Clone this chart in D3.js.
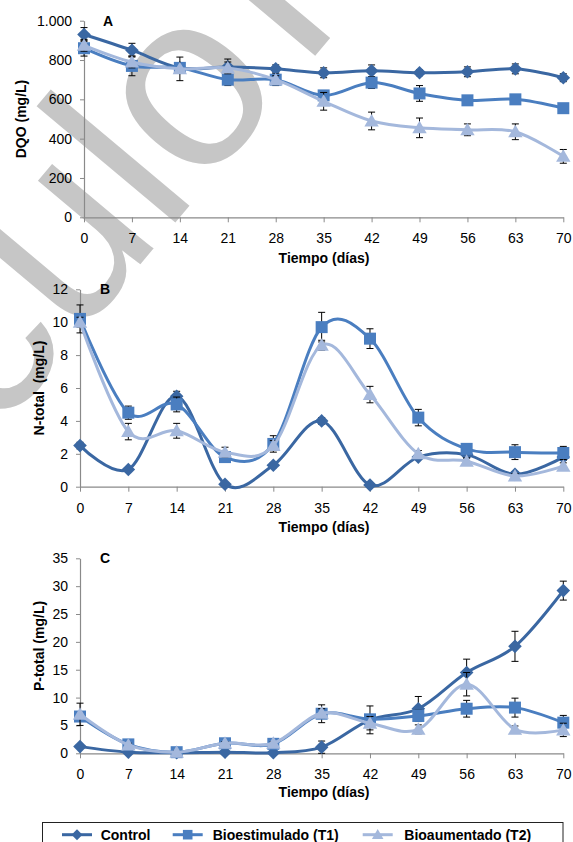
<!DOCTYPE html>
<html><head><meta charset="utf-8">
<script src="https://cdn.jsdelivr.net/npm/d3@7"></script>
<style>
body{margin:0;background:#fff}
svg{display:block}
text{font-family:"Liberation Sans",Arial,Helvetica,sans-serif}
</style>
</head><body>
<svg id="chart" width="573" height="842"></svg>
<script>
// ---------------- DATA ----------------
const days = [0, 7, 14, 21, 28, 35, 42, 49, 56, 63, 70];
const seriesNames = ["Control", "Bioestimulado (T1)", "Bioaumentado (T2)"];
const panelLetters = ["A", "B", "C"];
const yTitles = ["DQO (mg/L)", "N-total  (mg/L)", "P-total (mg/L)"];
const xTitle = "Tiempo (días)";
const watermarkWord1 = "Artículo";
const watermarkWord2 = " F";

// A: DQO (mg/L)
const dqoControl = [930, 850, 760, 765, 755, 735, 745, 735, 740, 755, 710];
const dqoT1      = [860, 770, 760, 700, 700, 620, 685, 630, 595, 600, 555];
const dqoT2      = [875, 790, 755, 760, 700, 590, 490, 455, 445, 435, 310];
const dqoErrControl = [35, 35, 20, 40, 20, 25, 30, 15, 25, 25, 20];
const dqoErrT1      = [40, 50, 20, 30, 30, 25, 30, 40, 20, 20, 15];
const dqoErrT2      = [30, 30, 60, 30, 20, 45, 45, 50, 30, 40, 35];
const dqoTicks = [0, 200, 400, 600, 800, 1000];

// B: N-total (mg/L)
const nControl = [2.5, 1.05, 5.5, 0.15, 1.3, 4.0, 0.1, 1.8, 1.95, 0.75, 1.8];
const nT1      = [10.2, 4.5, 5.0, 1.8, 2.6, 9.7, 9.0, 4.2, 2.3, 2.1, 2.05];
const nT2      = [10.0, 3.35, 3.4, 2.1, 2.5, 8.6, 5.6, 2.0, 1.55, 0.65, 1.25];
const nErrControl = [0.2, 0.1, 0.3, 0.1, 0.15, 0.2, 0.1, 0.15, 0.2, 0.15, 0.2];
const nErrT1      = [0.85, 0.4, 0.45, 0.3, 0.5, 0.9, 0.6, 0.5, 0.2, 0.45, 0.4];
const nErrT2      = [0.3, 0.5, 0.45, 0.3, 0.3, 0.3, 0.5, 0.2, 0.2, 0.15, 0.2];
const nTicks = [0, 2, 4, 6, 8, 10, 12];

// C: P-total (mg/L)
const pControl = [1.2, 0.2, 0.1, 0.2, 0.1, 1.1, 6.0, 8.0, 14.5, 19.2, 29.2];
const pT1      = [6.6, 1.6, 0.2, 1.8, 1.7, 7.1, 6.1, 6.7, 8.0, 8.2, 5.5];
const pT2      = [7.0, 1.5, 0.2, 1.8, 1.8, 7.2, 5.4, 4.3, 12.4, 4.3, 4.2];
const pErrControl = [0.3, 0.2, 0.1, 0.2, 0.2, 1.1, 2.5, 2.2, 2.4, 2.7, 1.7];
const pErrT1      = [0.5, 0.3, 0.2, 0.3, 0.3, 1.6, 0.5, 1.0, 1.5, 1.7, 1.3];
const pErrT2      = [2.0, 0.3, 0.2, 0.3, 0.3, 0.8, 1.2, 0.8, 2.1, 0.6, 1.2];
const pTicks = [0, 5, 10, 15, 20, 25, 30, 35];

// ---------------- STYLE / LAYOUT ----------------
const colors = ["#3A67A2", "#4A7EC0", "#A4B8DC"];
const shapes = ["diamond", "square", "triangle"];
const axisColor = "#8a8a8a";
const esLocale = d3.formatLocale({decimal: ",", thousands: ".", grouping: [3], currency: ["", "€"]});
const fmtThousands = esLocale.format(",");

const panels = [
  {vals: [dqoControl, dqoT1, dqoT2], errs: [dqoErrControl, dqoErrT1, dqoErrT2], ticks: dqoTicks,
   x0: 84, x1: 563.3, yTop: 20.7, yBot: 217.3, letterX: 103, letterY: 26,
   titleX: 21, titleY: 119, xTitleY: 263, fmt: fmtThousands},
  {vals: [nControl, nT1, nT2], errs: [nErrControl, nErrT1, nErrT2], ticks: nTicks,
   x0: 80, x1: 563.3, yTop: 289.3, yBot: 486.7, letterX: 100, letterY: 294,
   titleX: 38.5, titleY: 388, xTitleY: 532, fmt: d3.format("d")},
  {vals: [pControl, pT1, pT2], errs: [pErrControl, pErrT1, pErrT2], ticks: pTicks,
   x0: 80, x1: 563.3, yTop: 558.3, yBot: 753.3, letterX: 100, letterY: 563,
   titleX: 38.5, titleY: 646, xTitleY: 797, fmt: d3.format("d")}
];

const svg = d3.select("#chart");

// ---------------- WATERMARK ----------------
(function () {
  const S = 250, theta = -50;
  const g = svg.append("g");
  const t = g.append("text").attr("font-size", S).attr("fill", "#c6c6c6").attr("x", 0).attr("y", 0);
  t.append("tspan").text(watermarkWord1);
  t.append("tspan").attr("dx", -0.2 * S).text(watermarkWord2);
  let cx = 778;
  try {
    const ext = t.node().getExtentOfChar(7);
    cx = ext.x + ext.width / 2;
  } catch (e) {}
  const px = cx, py = -0.26 * S;
  const r = theta * Math.PI / 180;
  const rx = px * Math.cos(r) - py * Math.sin(r);
  const ry = px * Math.sin(r) + py * Math.cos(r);
  const target = [195, 98];
  g.attr("transform", `translate(${target[0] - rx},${target[1] - ry}) rotate(${theta})`);
})();

function markerPath(shape, k) {
  k = k || 1;
  if (shape === "diamond") { const h = 6.8 * k; return `M0,${-h}L${h},0L0,${h}L${-h},0Z`; }
  if (shape === "square") { const h = 6 * k; return `M${-h},${-h}H${h}V${h}H${-h}Z`; }
  const w = 7.2 * k, hT = 7 * k, hB = 5.5 * k;
  return `M0,${-hT}L${w},${hB}L${-w},${hB}Z`;
}

// ---------------- PANELS ----------------
panels.forEach((p, pi) => {
  const x = d3.scaleLinear().domain([0, 70]).range([p.x0, p.x1]);
  const y = d3.scaleLinear().domain([0, d3.max(p.ticks)]).range([p.yBot, p.yTop]);
  const g = svg.append("g");

  const ya = g.append("g").attr("transform", `translate(${p.x0},0)`)
    .call(d3.axisLeft(y).tickValues(p.ticks).tickFormat(p.fmt).tickSize(4).tickSizeOuter(0).tickPadding(8));
  const xa = g.append("g").attr("transform", `translate(0,${p.yBot})`)
    .call(d3.axisBottom(x).tickValues(days).tickFormat(d3.format("d")).tickSize(5).tickSizeOuter(0).tickPadding(11));
  [ya, xa].forEach(a => {
    a.select(".domain").attr("stroke", axisColor).attr("stroke-width", 1.2);
    a.selectAll(".tick line").attr("stroke", axisColor).attr("stroke-width", 1);
    a.selectAll(".tick text").attr("fill", "#000").attr("font-size", 14)
      .attr("font-family", "'Liberation Sans', Arial, sans-serif");
  });

  g.append("text").attr("x", p.letterX).attr("y", p.letterY).text(panelLetters[pi])
    .attr("font-weight", "bold").attr("font-size", 14).attr("fill", "#000");
  g.append("text").attr("transform", `translate(${p.titleX},${p.titleY}) rotate(-90)`)
    .attr("text-anchor", "middle").attr("dominant-baseline", "central")
    .attr("font-weight", "bold").attr("font-size", 14).attr("fill", "#000")
    .attr("xml:space", "preserve").style("white-space", "pre")
    .text(yTitles[pi]);
  g.append("text").attr("x", 324).attr("y", p.xTitleY).attr("text-anchor", "middle")
    .attr("font-weight", "bold").attr("font-size", 14).attr("fill", "#000").text(xTitle);

  const line = d3.line().x(d => x(d[0])).y(d => y(d[1])).curve(d3.curveCatmullRom.alpha(0));

  p.vals.forEach((vals, si) => {
    const pts = days.map((d, i) => [d, vals[i]]);
    const errs = p.errs[si];
    const sg = g.append("g");
    const eb = sg.append("g").attr("stroke", "#000").attr("stroke-width", 1).attr("fill", "none");
    pts.forEach((pt, i) => {
      const e = errs[i];
      const xx = x(pt[0]), yLo = y(Math.max(0, pt[1] - e)), yHi = y(pt[1] + e);
      eb.append("line").attr("x1", xx).attr("x2", xx).attr("y1", yLo).attr("y2", yHi);
      eb.append("line").attr("x1", xx - 3.5).attr("x2", xx + 3.5).attr("y1", yHi).attr("y2", yHi);
      eb.append("line").attr("x1", xx - 3.5).attr("x2", xx + 3.5).attr("y1", yLo).attr("y2", yLo);
    });
    sg.append("path").attr("d", line(pts)).attr("fill", "none")
      .attr("stroke", colors[si]).attr("stroke-width", 3).attr("stroke-linejoin", "round");
    sg.selectAll("path.m").data(pts).enter().append("path").attr("class", "m")
      .attr("d", markerPath(shapes[si]))
      .attr("transform", d => `translate(${x(d[0])},${y(d[1])})`)
      .attr("fill", colors[si]);
  });
});

// ---------------- LEGEND ----------------
const lg = svg.append("g");
lg.append("rect").attr("x", 42.5).attr("y", 822.5).attr("width", 520.5).attr("height", 30)
  .attr("fill", "#fff").attr("stroke", "#222").attr("stroke-width", 1);
const legendItems = [
  {lineX: 62, textX: 100.7},
  {lineX: 172.7, textX: 212.7},
  {lineX: 362.7, textX: 404.3}
];
seriesNames.forEach((name, i) => {
  const it = legendItems[i];
  const ly = 834.7;
  lg.append("line").attr("x1", it.lineX).attr("x2", it.lineX + 30).attr("y1", ly).attr("y2", ly)
    .attr("stroke", colors[i]).attr("stroke-width", 3);
  lg.append("path").attr("d", markerPath(shapes[i], 0.8))
    .attr("transform", `translate(${it.lineX + 15},${ly})`).attr("fill", colors[i]);
  lg.append("text").attr("x", it.textX).attr("y", 840).text(name)
    .attr("font-weight", "bold").attr("font-size", 14).attr("fill", "#000");
});
</script>
</body></html>
